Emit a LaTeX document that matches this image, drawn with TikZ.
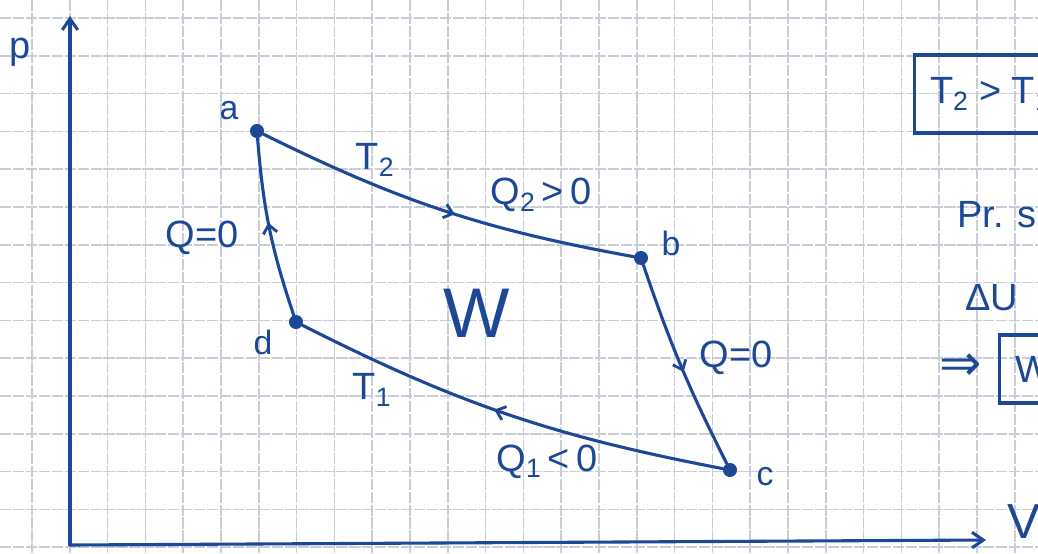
\documentclass[tikz,border=0pt]{standalone}
\usepackage{fontspec}
\setmainfont{Liberation Sans}
\newfontfamily\symfont{DejaVu Sans}
\usetikzlibrary{arrows.meta,decorations.markings,positioning}
\definecolor{inkblue}{RGB}{28,72,150}
\definecolor{gridgray}{RGB}{200,205,215}

\begin{document}
\begin{tikzpicture}[x=0.025cm, y=0.025cm,
    gridline/.style={draw=gridgray, line width=1.1pt, dash pattern=on 8pt off 1.2pt},
    ink/.style={draw=inkblue, line width=2.2pt, line cap=round, line join=round},
    axis/.style={ink, -{Straight Barb[length=8pt,width=11pt,line width=2.2pt]}},
    proc/.style={ink, postaction={decorate}, decoration={markings,
        mark=at position 0.53 with {\arrow{Straight Barb[length=6pt,width=10pt,line width=2pt]}}}},
    vertex/.style={circle, fill=inkblue, inner sep=0pt, minimum size=10pt},
    lbl/.style={text=inkblue, inner sep=0pt, font=\fontsize{27}{32}\selectfont},
    small/.style={lbl, font=\fontsize{24}{28}\selectfont},
    boxed/.style={lbl, draw=inkblue, line width=2.2pt, anchor=west, inner xsep=11pt}
]
\useasboundingbox (0,0) rectangle (1038,-553);
\clip (0,0) rectangle (1038,-553);
\fill[white] (0,0) rectangle (1038,-553);

% squared paper
\foreach \i in {0,...,27}
  \draw[gridline] ({32+37.8*\i},0) -- ++(0,-553);
\foreach \j in {0,...,14}
  \draw[gridline] (0,{-18-37.8*\j}) -- ++(1038,0);

% axes
\coordinate (o) at (70,-545);
\coordinate (ptip) at (70,-16);
\coordinate (vtip) at (986,-540);
\draw[axis] (o) -- (ptip);
\draw[axis] (o) -- (vtip);
\node[lbl] (plbl) at (20,-52) {p};
\node[lbl, font=\fontsize{35}{40}\selectfont] (vlbl) at (1024,-522) {V};

% states of the cycle
\node[vertex] (a) at (257,-131) {};
\node[vertex] (b) at (641,-258) {};
\node[vertex] (c) at (730,-470) {};
\node[vertex] (d) at (296,-322) {};
\node[small] (alb) at (229,-111) {a};
\node[small] (blb) at (671,-243) {b};
\node[small] (clb) at (765,-477) {c};
\node[small] (dlb) at (263,-342) {d};

% processes
\draw[proc] (a) to[bend right=8] (b);
\draw[proc] (b) to[bend right=4] (c);
\draw[proc] (c) to[bend left=8] (d);
\draw[proc] (d) to[bend left=7] (a);

\node[lbl] (t2) at (375,-160) {T\textsubscript{2}};
\node[lbl] (q2) at (541,-195) {Q\textsubscript{2}\,>\,0};
\node[lbl] (qda) at (202,-238) {Q=0};
\node[lbl, font=\fontsize{50}{56}\selectfont] (work) at (477,-313) {W};
\node[lbl] (qbc) at (736,-358) {Q=0};
\node[lbl] (t1) at (372,-390) {T\textsubscript{1}};
\node[lbl] (q1) at (547,-462) {Q\textsubscript{1}\,<\,0};

% notes on the right
\node[boxed, minimum height=1.95cm] (tcmp) at (913,-94) {T\textsubscript{2} > T\textsubscript{1}};
\node[lbl, anchor=west] (prs) at (957,-215) {Pr. s};
\node[lbl, anchor=west] (du) at (965,-298) {ΔU};
\node[lbl, anchor=west, font=\symfont\fontsize{36}{40}\selectfont] (impl) at (939,-367) {⇒};
\node[boxed, minimum height=1.7cm] (wbox) at (998,-369) {W};
\end{tikzpicture}
\end{document}
